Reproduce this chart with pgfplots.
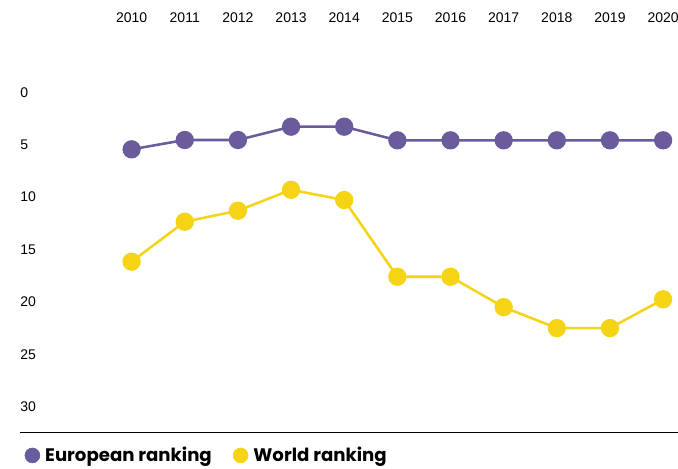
\documentclass[border=0pt]{standalone}
\usepackage{fontspec}
\setmainfont{Liberation Sans}
\newfontfamily\legendfont{Poppins}
\usepackage{pgfplots}
\pgfplotsset{compat=1.18}
\definecolor{eupurple}{HTML}{6A5C9C}
\definecolor{wyellow}{HTML}{F5D315}
\begin{document}
\begin{tikzpicture}
\begin{axis}[
  scale only axis,
  width=493.5pt, height=324.2pt,
  xmin=2007.9, xmax=2020.28,
  ymin=-8.81, ymax=32.44,
  y dir=reverse,
  axis line style={draw=none},
  major tick length=0pt,
  xtick={2010,2011,...,2020},
  ytick={0,5,10,15,20,25,30},
  xtick pos=upper, xticklabel pos=upper,
  /pgf/number format/assume math mode=true,
  /pgf/number format/1000 sep={},
  tick label style={font=\fontsize{10.5pt}{12pt}\selectfont, text=black},
  xticklabel style={anchor=center, yshift=-12.97pt, inner sep=0pt},
  yticklabel style={anchor=west, inner sep=0pt},
  clip=false,
  legend style={at={(axis cs:2007.9,34.65)}, anchor=west, xshift=3.5pt, draw=none, fill=none,
    legend columns=2, inner sep=0pt, font=\legendfont\bfseries\fontsize{13.6pt}{15pt}\selectfont,
    /tikz/every odd column/.append style={column sep=3pt},
    /tikz/every even column/.append style={column sep=15pt},
    nodes={inner sep=1pt}},
]
\draw[black, line width=0.8pt] (axis cs:2007.9,32.44) -- (axis cs:2020.28,32.44);
\addplot[forget plot, eupurple, line width=1.9pt, mark=*, mark size=5.9pt] coordinates {
(2010,5.44) (2011,4.55) (2012,4.55) (2013,3.28) (2014,3.28) (2015,4.58) (2016,4.58) (2017,4.58) (2018,4.58) (2019,4.58) (2020,4.58)};
\addplot[forget plot, wyellow, line width=1.9pt, mark=*, mark size=5.9pt] coordinates {
(2010,16.16) (2011,12.35) (2012,11.3) (2013,9.3) (2014,10.28) (2015,17.6) (2016,17.6) (2017,20.5) (2018,22.5) (2019,22.5) (2020,19.75)};
\addlegendimage{only marks, mark=*, mark size=5.6pt, eupurple}
\addlegendentry{European ranking}
\addlegendimage{only marks, mark=*, mark size=5.6pt, wyellow}
\addlegendentry{World ranking}
\end{axis}
\pgfresetboundingbox
\path ([xshift=-15pt,yshift=-27.5pt]current axis.south west) rectangle (current axis.north east);
\end{tikzpicture}
\end{document}
